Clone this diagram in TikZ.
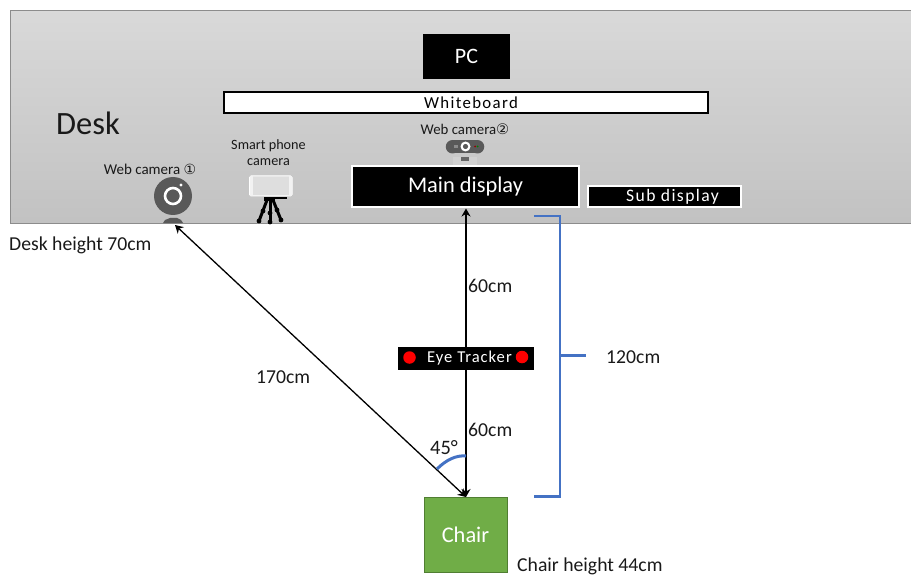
\documentclass[tikz,border=0pt]{standalone}
\usepackage{fontspec}
\setmainfont{Carlito}
\newfontfamily\symfont{DejaVu Sans}
\usetikzlibrary{arrows.meta}
\definecolor{bluebr}{HTML}{4472C4}
\definecolor{chairg}{HTML}{70AD47}
\definecolor{chairb}{HTML}{507E32}
\definecolor{camg}{HTML}{595959}
\tikzset{
 lbl/.style={inner sep=0pt,text=black!90,font=\fontsize{#1}{#1}\selectfont},
 lbl/.default=19.7,
 blackbox/.style={draw=white,line width=2pt,fill=black,text=white,inner sep=0pt,align=center},
 dim/.style={draw=black,line width=1.3pt,{Stealth[length=8pt,width=9pt]}-{Stealth[length=8pt,width=9pt]}},
 brace/.style={draw=bluebr,line width=2.4pt},
 dot/.style={circle,fill=red,inner sep=0pt,minimum size=12.5pt},
 leg/.style={draw=black,line width=3pt},
 bead/.style={fill=black},
}
\begin{document}
\begin{tikzpicture}[x=1pt,y=-1pt]
\useasboundingbox (0,0) rectangle (911,575);
% desk
\path[top color=black!15,bottom color=black!24,draw=black!45,line width=1pt] (10.5,10.5) rectangle (911,223.5);
\node[lbl=32.5,anchor=west] (desk) at (56,123) {Desk};
\node[fill=black,text=white,inner sep=0pt,minimum width=87pt,minimum height=45pt,font=\fontsize{22}{22}\selectfont] (pc) at (466.5,56.5) {PC};
\node[draw=black,line width=1.5pt,fill=white,minimum width=484pt,minimum height=21pt,inner sep=0pt,font=\fontsize{16.8}{16.8}\selectfont\addfontfeature{LetterSpace=8}] (wb) at (466,102.5) {\hspace*{10pt}Whiteboard};
\node[blackbox,minimum width=227pt,minimum height=41pt,font=\fontsize{22.4}{22.4}\selectfont] (main) at (465.5,186.5) {\raisebox{-2pt}{Main display}};
\node[blackbox,minimum width=153pt,minimum height=21pt,font=\fontsize{17.6}{17.6}\selectfont\addfontfeature{LetterSpace=8}] (sub) at (664.5,197) {\hspace*{16pt}Sub display};
% cameras
\node[lbl=14.8] (wc2) at (465,129) {Web camera{\symfont\fontsize{14.6}{14.6}\selectfont ②}};
\node[lbl=15] (wc1) at (150,169.5) {Web camera {\symfont\fontsize{14}{14}\selectfont ①}};
\node[lbl=14.2,align=center] (sp) at (268.5,153) {Smart phone\\[2pt]camera};
% web cam 1
\fill[camg] (173,196) circle (19);
\draw[white,line width=2.6pt] (173,196) circle (8);
\fill[white] (181,185) circle (1.7);
\fill[camg] (163,223) -- (165,220) -- (170,218) -- (177,218) -- (181,220) -- (183,223) -- cycle;
% web cam 2
\fill[black!18] (453,157) rectangle (477,165);
\fill[camg] (452.5,140) rectangle (477.5,153.5);
\fill[camg] (452.5,146.75) circle (6.75);
\fill[camg] (477.5,146.75) circle (6.75);
\fill[white] (465.5,146.5) circle (5);
\fill[camg] (465.5,146.5) circle (2.6);
\fill[black!60] (461,157) rectangle (469,161.5);
\fill[black!45] (454,145) rectangle (458,148);
\fill[red!60!black] (475,146.5) circle (1);
\fill[green!50!black] (477.5,146.5) circle (1);
% phone + tripod
\fill[black!13,draw=white,line width=1pt,rounded corners=1.5pt] (249.5,176) rectangle (292,196);
\fill[white!95!black] (249.5,176) rectangle (253,196);
\fill[white!95!black] (288.5,176) rectangle (292,196);
\fill[black] (264,197) rectangle (287,199);
\fill[black] (264,197) rectangle (275,201);
\draw[leg] (267,200) -- (259,221);
\draw[leg] (270,200) -- (270,222);
\draw[leg] (273,200) -- (281,220);
\foreach \p in {(259,221),(263,211),(270,222),(270,213),(281,220),(277,210)} \fill[bead] \p circle (2.4);
% chair
\node[draw=chairb,line width=1pt,fill=chairg,text=white,minimum width=83pt,minimum height=75pt,inner sep=0pt,font=\fontsize{22.4}{22.4}\selectfont] (chair) at (465.5,535) {Chair};
\coordinate (chairTop) at (466,497);
\coordinate (mainBot) at (466,208.5);
\coordinate (camBase) at (175,225);
% connectors
\draw[dim] (mainBot) -- (chairTop);
\draw[dim] (camBase) -- (chairTop);
% eye tracker
\node[fill=black,text=white,minimum width=136pt,minimum height=23pt,inner sep=0pt,font=\fontsize{16.6}{16.6}\selectfont\addfontfeature{LetterSpace=6}] (et) at (466,358.5) {\hspace*{7pt}Eye Tracker};
\node[dot] (d1) at (409.5,357.5) {};
\node[dot] (d2) at (522,357) {};
% brace
\coordinate (b1) at (534,216);
\coordinate (b2) at (560,216);
\coordinate (b3) at (560,496.5);
\coordinate (b4) at (534,496.5);
\coordinate (b5) at (586,355.5);
\coordinate (b6) at (560,355.5);
\draw[brace] (b1) -- (b2) -- (b3) -- (b4);
\draw[brace] (b6) -- (b5);
% angle
\coordinate (a1) at (437,469);
\coordinate (a2) at (466,456);
\draw[bluebr,line width=3pt] (a1) .. controls (446,460) and (456,455) .. (a2);
% labels
\node[lbl,anchor=west] (l1) at (9,245) {Desk height 70cm};
\node[lbl,anchor=west] (l2) at (468,286) {60cm};
\node[lbl,anchor=west] (l3) at (468,430) {60cm};
\node[lbl,anchor=west] (l4) at (256,377) {170cm};
\node[lbl,anchor=west] (l5) at (606,357) {120cm};
\node[lbl=20.5,anchor=west] (l6) at (430,447.5) {45°};
\node[lbl,anchor=west] (l7) at (517,566) {Chair height 44cm};
\end{tikzpicture}
\end{document}
